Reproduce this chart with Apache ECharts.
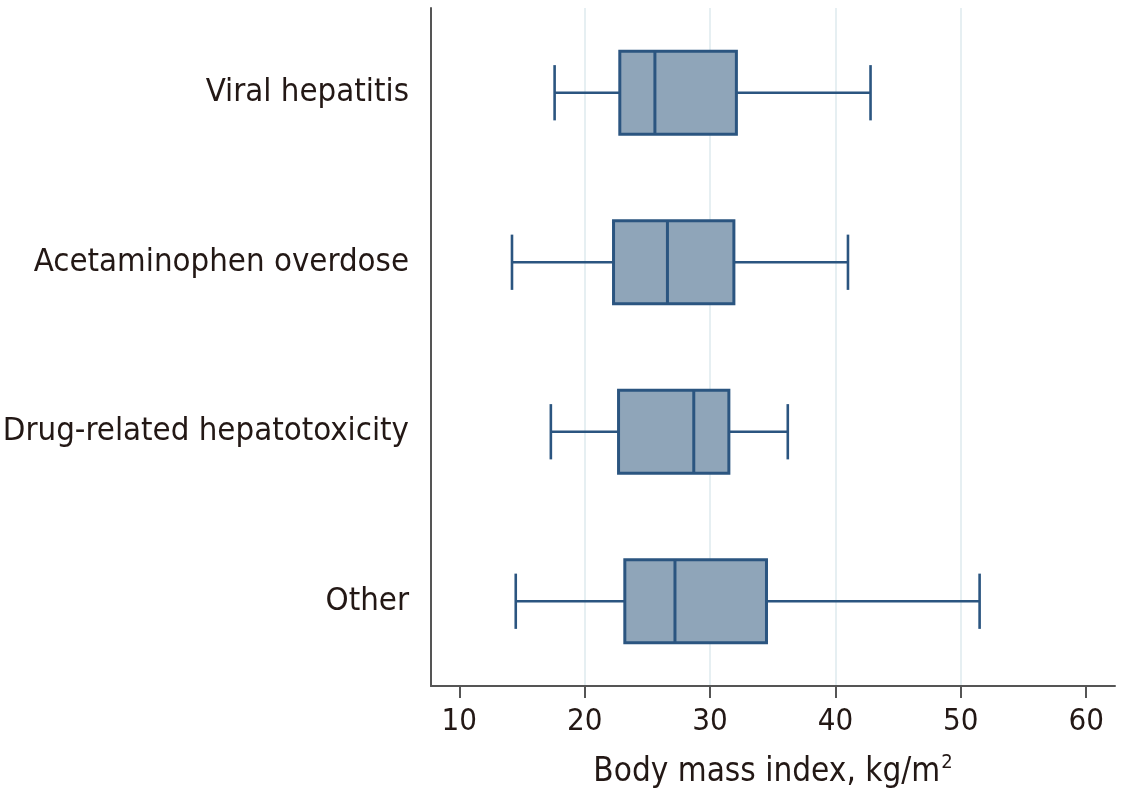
<!DOCTYPE html>
<html>
<head>
<meta charset="utf-8">
<script src="https://cdn.jsdelivr.net/npm/echarts@6/dist/echarts.min.js"></script>
<style>
html,body{margin:0;padding:0;background:#fff;}
#chart{width:1127px;height:792px;}
</style>
</head>
<body>
<div id="chart"></div>
<script>
const categories = ['Viral hepatitis', 'Acetaminophen overdose', 'Drug-related hepatotoxicity', 'Other'];
const lowerWhisker = [17.6, 14.2, 17.3, 14.5];
const q1 = [22.8, 22.3, 22.7, 23.2];
const median = [25.6, 26.6, 28.7, 27.2];
const q3 = [32.1, 31.9, 31.5, 34.5];
const upperWhisker = [42.8, 41.0, 36.2, 51.5];
const xTicks = [10, 20, 30, 40, 50, 60];
const gridValues = [20, 30, 40, 50];

const boxData = categories.map((c, i) => [i, lowerWhisker[i], q1[i], median[i], q3[i], upperWhisker[i]]);

const FONT = 'DejaVu Sans Condensed';
const DARK = '#2b5580';
const FILL = '#8fa5b9';
const X_MIN = 7.74, X_MAX = 62.3;

const chart = echarts.init(document.getElementById('chart'), null, {renderer: 'canvas'});

function renderBox(params, api) {
  const idx = api.value(0);
  const band = api.size([0, 1])[1];
  const boxHalf = band * 0.245;
  const capHalf = band * 0.163;
  const pLo = api.coord([api.value(1), idx]);
  const pQ1 = api.coord([api.value(2), idx]);
  const pMed = api.coord([api.value(3), idx]);
  const pQ3 = api.coord([api.value(4), idx]);
  const pHi = api.coord([api.value(5), idx]);
  const y = pMed[1];
  const lineStyle = {stroke: DARK, lineWidth: 2.6, fill: null};
  return {
    type: 'group',
    children: [
      {type: 'line', shape: {x1: pLo[0], y1: y, x2: pQ1[0], y2: y}, style: lineStyle},
      {type: 'line', shape: {x1: pQ3[0], y1: y, x2: pHi[0], y2: y}, style: lineStyle},
      {type: 'line', shape: {x1: pLo[0], y1: y - capHalf, x2: pLo[0], y2: y + capHalf}, style: lineStyle},
      {type: 'line', shape: {x1: pHi[0], y1: y - capHalf, x2: pHi[0], y2: y + capHalf}, style: lineStyle},
      {type: 'rect', shape: {x: pQ1[0], y: y - boxHalf, width: pQ3[0] - pQ1[0], height: boxHalf * 2},
        style: {fill: FILL, stroke: DARK, lineWidth: 3}},
      {type: 'line', shape: {x1: pMed[0], y1: y - boxHalf, x2: pMed[0], y2: y + boxHalf}, style: {stroke: DARK, lineWidth: 3}}
    ]
  };
}

chart.setOption({
  animation: false,
  backgroundColor: '#ffffff',
  grid: {left: 431, right: 12, top: 8, bottom: 106, containLabel: false, outerBoundsMode: 'none'},
  xAxis: [{
    type: 'value',
    min: X_MIN,
    max: X_MAX,
    axisLine: {show: true, onZero: false, lineStyle: {color: '#555555', width: 2}},
    axisTick: {show: true, length: 12, customValues: xTicks, lineStyle: {color: '#555555', width: 2}},
    axisLabel: {customValues: xTicks, color: '#231815', fontFamily: FONT, fontSize: 31, margin: 20},
    splitLine: {show: false},
    name: '{a|Body mass index, kg/m}{s|2}',
    nameLocation: 'middle',
    nameGap: 67,
    nameTextStyle: {
      color: '#231815',
      fontFamily: FONT,
      rich: {
        a: {fontSize: 33, fontFamily: FONT, color: '#231815', lineHeight: 38},
        s: {fontSize: 20, fontFamily: FONT, color: '#231815', verticalAlign: 'top', lineHeight: 38, padding: [0, 0, 14, 1]}
      }
    }
  }, {
    type: 'value',
    min: X_MIN,
    max: X_MAX,
    position: 'top',
    axisLine: {show: false},
    axisTick: {show: false, customValues: gridValues},
    axisLabel: {show: false, customValues: gridValues},
    splitLine: {show: true, lineStyle: {color: '#e4eef1', width: 1.8}}
  }],
  yAxis: {
    type: 'category',
    data: categories,
    inverse: true,
    axisLine: {show: true, lineStyle: {color: '#555555', width: 2}},
    axisTick: {show: false},
    splitLine: {show: false},
    axisLabel: {color: '#231815', fontFamily: FONT, fontSize: 32.7, margin: 22}
  },
  series: [{
    type: 'custom',
    xAxisIndex: 0,
    renderItem: renderBox,
    encode: {x: [1, 2, 3, 4, 5], y: 0},
    data: boxData,
    z: 5
  }]
});
</script>
</body>
</html>
